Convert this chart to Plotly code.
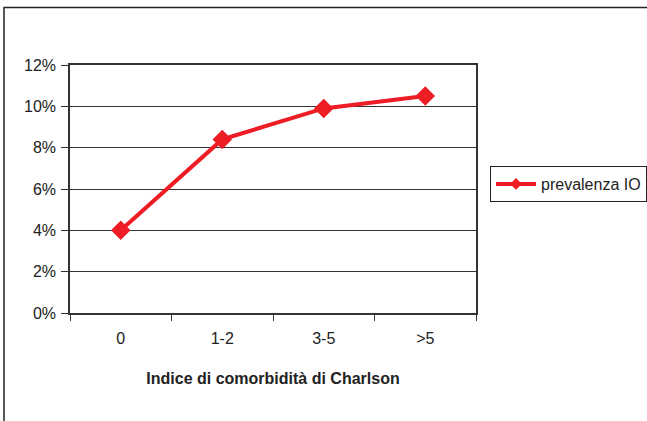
import plotly.graph_objects as go

# Charlson comorbidity index classes and prevalence (%)
categorie = ["0", "1-2", "3-5", ">5"]
prevalenza = [4.0, 8.4, 9.9, 10.5]
y_ticks = [0, 2, 4, 6, 8, 10, 12]
y_labels = [f"{v}%" for v in y_ticks]

W, H = 647, 421
L, R, T, B = 70, 476, 65, 313  # plot area in pixels
pw, ph = R - L, B - T

def px_x(x):
    return (x - L) / pw

def px_y(y):
    return (B - y) / ph

rosso = "#EE1C25"
font = "Liberation Sans, Arial, sans-serif"
fs = 16

fig = go.Figure()
fig.add_trace(go.Scatter(
    x=categorie, y=prevalenza, mode="lines+markers", name="prevalenza IO",
    line=dict(color=rosso, width=4),
    marker=dict(symbol="diamond", size=15, color=rosso),
    showlegend=False,
))
# legend entry with a smaller diamond, as in the series key
fig.add_trace(go.Scatter(
    x=[None], y=[None], mode="lines+markers", name="prevalenza IO",
    line=dict(color=rosso, width=4),
    marker=dict(symbol="diamond", size=9, color=rosso),
    showlegend=True,
))

fig.update_layout(
    width=W, height=H,
    margin=dict(l=L, r=W - R, t=T, b=H - B, autoexpand=False),
    paper_bgcolor="white", plot_bgcolor="white",
    font=dict(family=font, size=fs, color="#222"),
    legend=dict(
        x=px_x(490), y=px_y(184), xanchor="left", yanchor="middle",
        bordercolor="#222", borderwidth=1, bgcolor="white",
        font=dict(size=fs, family=font),
        itemwidth=40, tracegroupgap=0,
    ),
    xaxis=dict(
        type="category", range=[-0.5, 3.5],
        tickson="boundaries", ticks="outside", ticklen=6, tickcolor="#333",
        showline=True, linecolor="#333", linewidth=1.5, mirror=True,
        showgrid=False, zeroline=False,
        ticklabelstandoff=10,
        tickfont=dict(size=fs, family=font, color="#222"),
        title=dict(text="<b>Indice di comorbidità di Charlson</b>", standoff=27,
                   font=dict(size=16, family=font, color="#222")),
    ),
    yaxis=dict(
        range=[0, 12], tickvals=y_ticks, ticktext=y_labels,
        ticks="outside", ticklen=7, tickcolor="#333",
        showline=True, linecolor="#333", linewidth=1.5, mirror=True,
        showgrid=True, gridcolor="#333", gridwidth=1, zeroline=False,
        ticklabelstandoff=2,
        tickfont=dict(size=fs, family=font, color="#222"),
    ),
    shapes=[dict(
        type="rect", xref="paper", yref="paper",
        x0=px_x(4), x1=px_x(W + 40), y0=px_y(H + 40), y1=px_y(7.5),
        line=dict(color="#222", width=1.5), fillcolor="rgba(0,0,0,0)", layer="below",
    )],
)

fig.write_html("out.html")
